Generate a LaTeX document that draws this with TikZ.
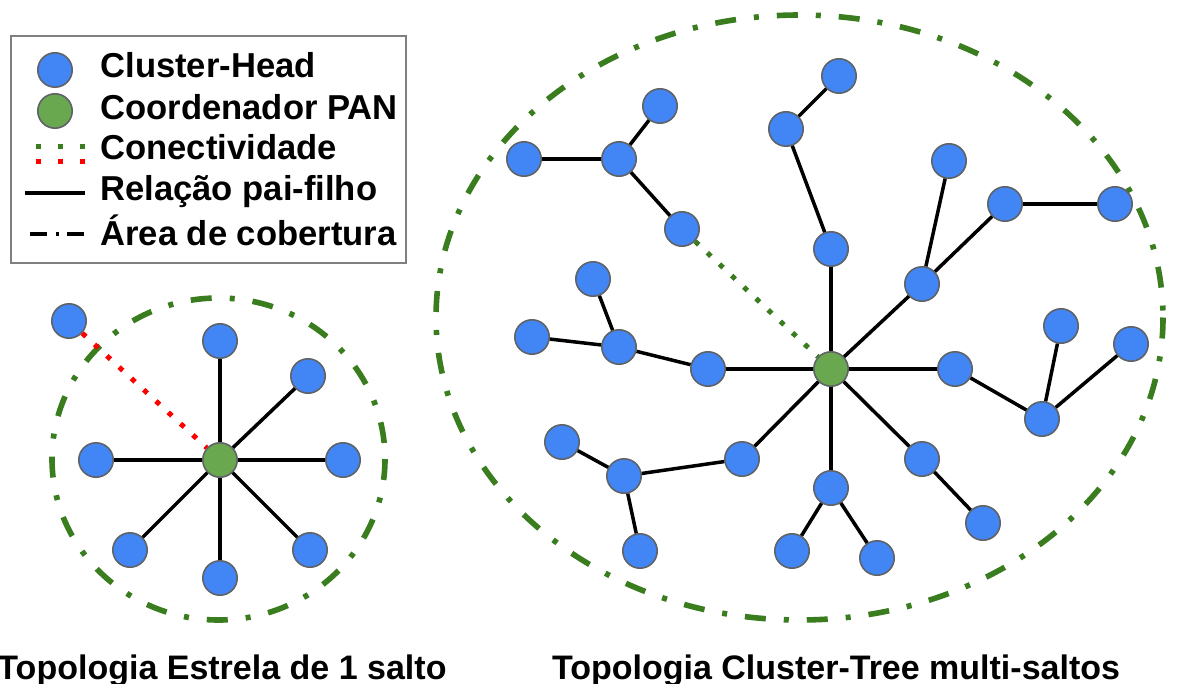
\documentclass[tikz,border=0pt]{standalone}
\usepackage{fontspec}
\setmainfont{Liberation Sans}
\definecolor{chblue}{HTML}{4285F4}
\definecolor{pangreen}{HTML}{6AA84F}
\definecolor{nodeborder}{HTML}{5F6368}
\definecolor{areagreen}{HTML}{3A7D1F}
\definecolor{boxgray}{HTML}{808080}
\tikzset{
  ch/.style={circle, fill=chblue, draw=nodeborder, line width=0.8pt, minimum size=17.2pt, inner sep=0pt},
  pan/.style={ch, fill=pangreen},
  link/.style={line width=1.75pt, black},
  conn/.style={line width=2.5pt, line cap=butt, dash pattern=on 2.5pt off 5.85pt},
  area/.style={line width=2.8pt, areagreen, line cap=butt, dash pattern=on 10.5pt off 9pt on 2.5pt off 9pt},
  lbl/.style={anchor=base west, inner sep=0pt, font=\bfseries\fontsize{17.3}{20}\selectfont},
  captiontext/.style={anchor=base, inner sep=0pt, font=\bfseries\fontsize{17}{20}\selectfont}
}
\begin{document}
\begin{tikzpicture}[x=0.5pt,y=-0.5pt]
\useasboundingbox (0,0) rectangle (1181,684);
\fill[white] (0,0) rectangle (1181,684);

% ---------- legend ----------
\node[draw=boxgray, line width=0.8pt, minimum width=197.5pt, minimum height=113.5pt, anchor=north west, inner sep=0pt] (legend) at (10,35) {};
\node[ch] (lch) at (55,70) {};
\node[pan] (lpan) at (55,111) {};
\coordinate (lg1) at (36,147); \coordinate (lg2) at (88,147);
\coordinate (lr1) at (36,162); \coordinate (lr2) at (88,162);
\draw[conn, areagreen, dash pattern=on 2.5pt off 8.5pt] (lg1) -- (lg2);
\draw[conn, red, dash pattern=on 2.5pt off 8.5pt] (lr1) -- (lr2);
\coordinate (ls1) at (25,193); \coordinate (ls2) at (85,193);
\draw[link] (ls1) -- (ls2);
\coordinate (la1) at (30,234); \coordinate (la2) at (86,234);
\draw[line width=1.6pt, black, dash pattern=on 8.5pt off 4.5pt on 1.5pt off 4pt] (la1) -- (la2);
\node[lbl] (t1) at (100,78) {Cluster-Head};
\node[lbl] (t2) at (100,120) {Coordenador PAN};
\node[lbl] (t3) at (100,160) {Conectividade};
\node[lbl] (t4) at (100,200) {Relação pai-filho};
\node[lbl] (t5) at (100,245) {Área de cobertura};

% ---------- star topology ----------
\draw[area] (218.5,459) ellipse [x radius=166.5, y radius=161];
\node[pan] (sc) at (220,460) {};
\node[ch] (s1) at (220,341) {};
\node[ch] (s2) at (308,376) {};
\node[ch] (s3) at (343,460) {};
\node[ch] (s4) at (310,550) {};
\node[ch] (s5) at (220,578) {};
\node[ch] (s6) at (130,550) {};
\node[ch] (s7) at (96,460) {};
\node[ch] (so) at (69,321) {};
\foreach \n in {s1,s2,s3,s4,s5,s6,s7} \draw[link] (sc) -- (\n);
\draw[conn, red] (so) -- (sc);

% ---------- cluster-tree topology ----------
\draw[area] (799.5,317.5) ellipse [x radius=363.5, y radius=302.5];
\node[pan] (tc) at (831,369) {};
% north branch
\node[ch] (n1) at (831,249) {};
\node[ch] (n2) at (786,129) {};
\node[ch] (n3) at (839,76) {};
% north-east branch
\node[ch] (e1) at (922,284) {};
\node[ch] (e2) at (949,161) {};
\node[ch] (e3) at (1005,204) {};
\node[ch] (e4) at (1115,204) {};
% east branch
\node[ch] (r1) at (955,369) {};
\node[ch] (r2) at (1042,419) {};
\node[ch] (r3) at (1061,326) {};
\node[ch] (r4) at (1131,344) {};
% south-east branch
\node[ch] (q1) at (922,459) {};
\node[ch] (q2) at (983,523) {};
% south branch
\node[ch] (b1) at (831,488) {};
\node[ch] (b2) at (792,551) {};
\node[ch] (b3) at (877,558) {};
% south-west branch
\node[ch] (w1) at (742,459) {};
\node[ch] (w2) at (624,476) {};
\node[ch] (w3) at (562,442) {};
\node[ch] (w4) at (640,551) {};
% west branch
\node[ch] (v1) at (708,369) {};
\node[ch] (v2) at (619,347) {};
\node[ch] (v3) at (593,279) {};
\node[ch] (v4) at (532,337) {};
% north-west (dotted) branch
\node[ch] (u1) at (682,229) {};
\node[ch] (u2) at (619,159) {};
\node[ch] (u3) at (660,106) {};
\node[ch] (u4) at (524,159) {};

\draw[link] (tc) -- (n1); \draw[link] (n1) -- (n2); \draw[link] (n2) -- (n3);
\draw[link] (tc) -- (e1); \draw[link] (e1) -- (e2); \draw[link] (e1) -- (e3); \draw[link] (e3) -- (e4);
\draw[link] (tc) -- (r1); \draw[link] (r1) -- (r2); \draw[link] (r2) -- (r3); \draw[link] (r2) -- (r4);
\draw[link] (tc) -- (q1); \draw[link] (q1) -- (q2);
\draw[link] (tc) -- (b1); \draw[link] (b1) -- (b2); \draw[link] (b1) -- (b3);
\draw[link] (tc) -- (w1); \draw[link] (w1) -- (w2); \draw[link] (w2) -- (w3); \draw[link] (w2) -- (w4);
\draw[link] (tc) -- (v1); \draw[link] (v1) -- (v2); \draw[link] (v2) -- (v3); \draw[link] (v2) -- (v4);
\draw[link] (u1) -- (u2); \draw[link] (u2) -- (u3); \draw[link] (u2) -- (u4);
\draw[conn, areagreen] (u1) -- (tc);

% ---------- captions ----------
\node[captiontext] (c1) at (222,679) {Topologia Estrela de 1 salto};
\node[captiontext] (c2) at (836,679) {Topologia Cluster-Tree multi-saltos};
\end{tikzpicture}
\end{document}
